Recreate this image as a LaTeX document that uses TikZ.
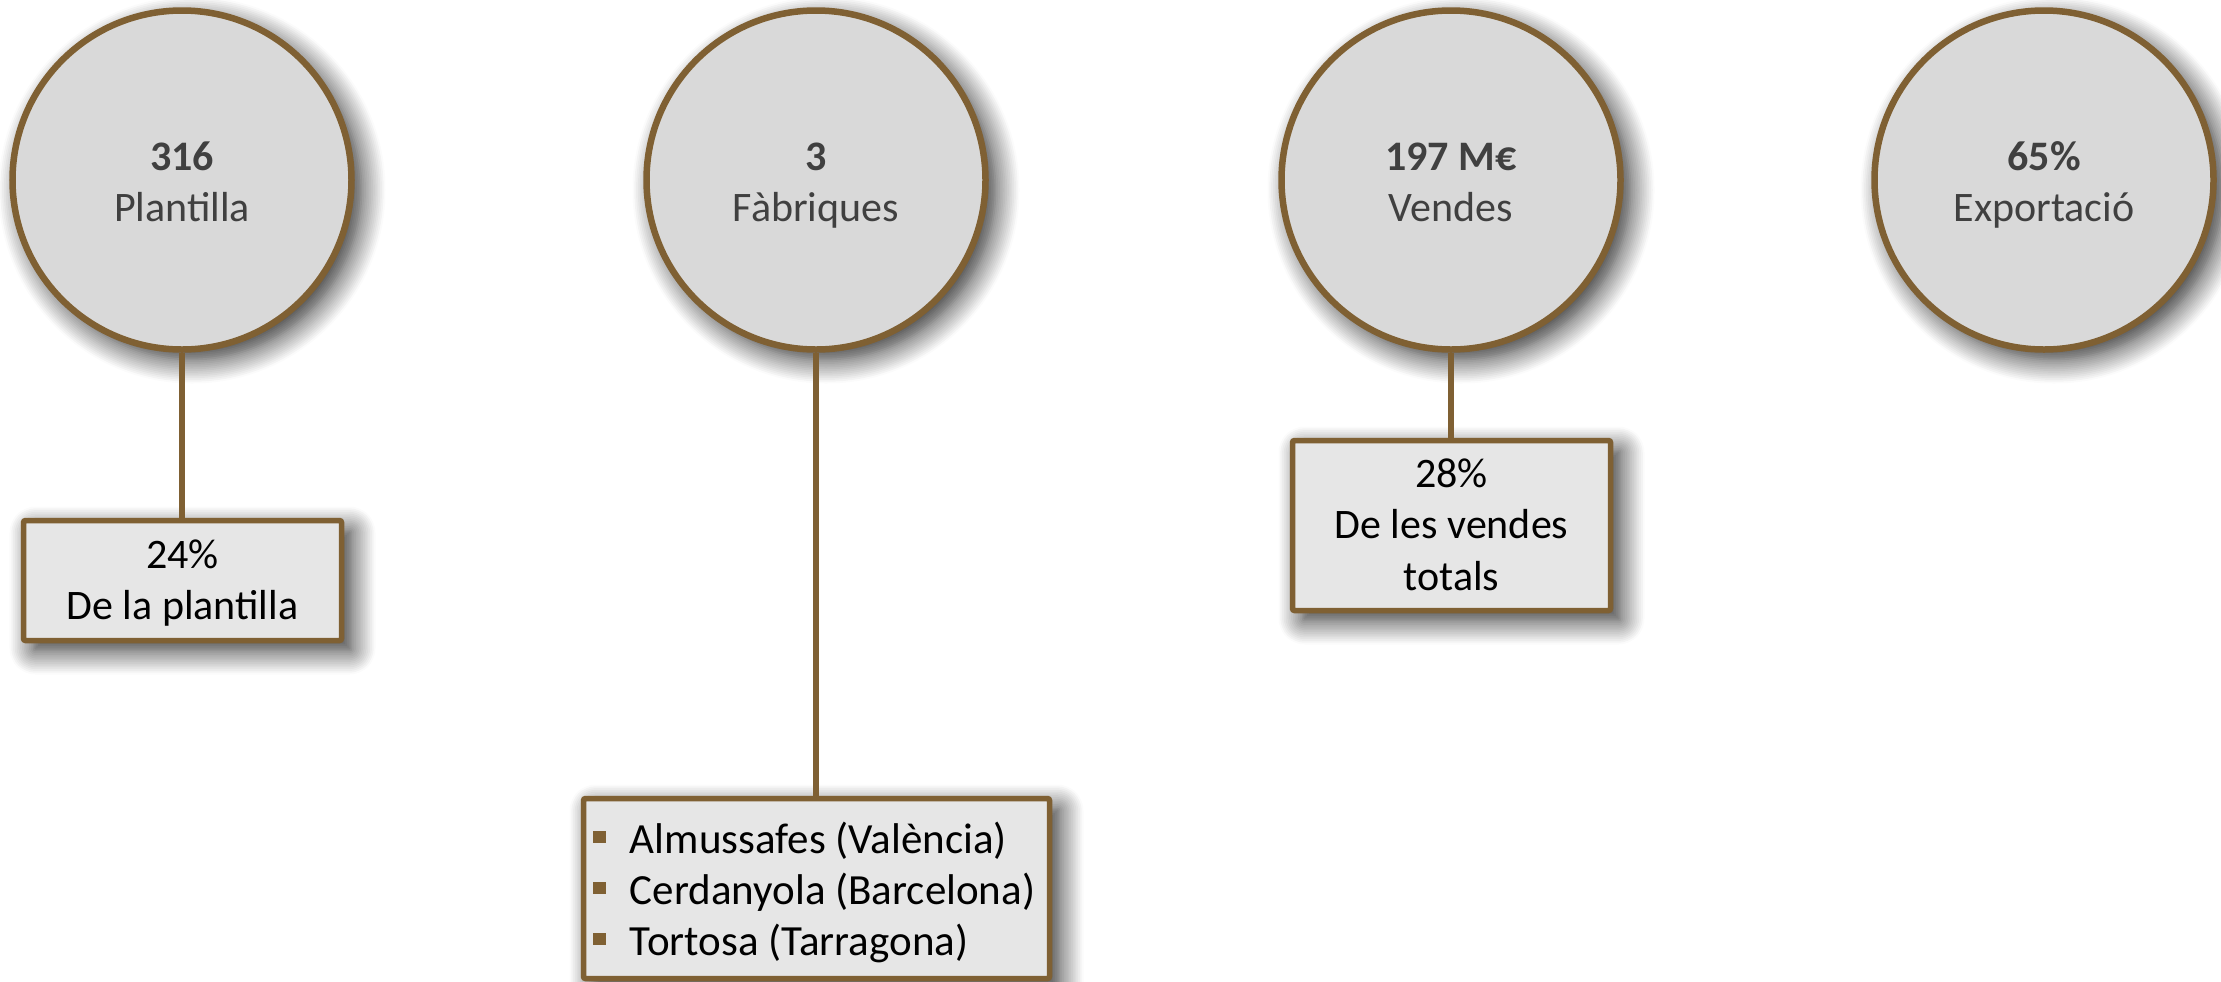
\documentclass[tikz,border=0pt]{standalone}
\usepackage{fontspec}
\setmainfont{Carlito}
\usetikzlibrary{shadows.blur}
\definecolor{brd}{HTML}{7F6033}
\definecolor{cfill}{HTML}{D9D9D9}
\definecolor{bfill}{HTML}{E6E6E6}
\definecolor{ctext}{HTML}{404040}
\newcommand\sqbul{\textcolor{brd}{\rule[5pt]{6.25pt}{6.25pt}}\hspace{12pt}}
\tikzset{
  softshadow/.style={blur shadow={shadow xshift=5pt, shadow yshift=-5pt, shadow blur radius=12pt, shadow blur steps=14, shadow opacity=85}},
  stat/.style={circle, draw=brd, line width=3.25pt, fill=cfill, minimum size=169.5pt,
    inner sep=0pt, softshadow},
  infobox/.style={rectangle, draw=brd, line width=2.75pt, fill=bfill, inner sep=0pt,
    rounded corners=1pt, softshadow},
  stattext/.style={anchor=base, inner sep=0pt, text=ctext, font=\fontsize{21}{25.5}\selectfont},
  boxtext/.style={anchor=base, inner sep=0pt, font=\fontsize{21}{25.5}\selectfont},
  listline/.style={anchor=base west, inner sep=0pt, font=\fontsize{21.5}{25.5}\selectfont},
  link/.style={draw=brd, line width=3pt},
}
\begin{document}
\begin{tikzpicture}[x=0.5pt, y=-0.5pt]
\useasboundingbox (0,0) rectangle (2221,981);
% circles
\node[stat] (c1) at (182,180) {};
\node[stat] (c2) at (816,180) {};
\node[stat] (c3) at (1451,180) {};
\node[stat] (c4) at (2044,180) {};
\node[stattext] (c1n) at (182,170) {\textbf{316}};
\node[stattext] (c1w) at (182,221) {Plantilla};
\node[stattext] (c2n) at (816,170) {\textbf{3}};
\node[stattext] (c2w) at (816,221) {Fàbriques};
\node[stattext] (c3n) at (1451,170) {\textbf{197 M€}};
\node[stattext] (c3w) at (1451,221) {Vendes};
\node[stattext] (c4n) at (2044,170) {\textbf{65\%}};
\node[stattext] (c4w) at (2044,221) {Exportació};
% boxes
\node[infobox, minimum width=159pt, minimum height=60pt] (b1) at (182.5,580.5) {};
\node[boxtext] (b1a) at (182.5,568) {24\%};
\node[boxtext] (b1b) at (182.5,619) {De la plantilla};
\node[infobox, minimum width=159pt, minimum height=85pt] (b3) at (1451.5,525.5) {};
\node[boxtext] (b3a) at (1451.5,487) {28\%};
\node[boxtext] (b3b) at (1451.5,538.5) {De les vendes};
\node[boxtext] (b3c) at (1451.5,590) {totals};
\node[infobox, minimum width=233pt, minimum height=90pt] (b2) at (816.5,888.5) {};
\node[listline] (t1) at (593,853) {\sqbul Almussafes (València)};
\node[listline] (t2) at (593,904) {\sqbul Cerdanyola (Barcelona)};
\node[listline] (t3) at (593,955) {\sqbul Tortosa (Tarragona)};
% connectors
\draw[link] (c1.south) -- (c1.south |- b1.north);
\draw[link] (c2.south) -- (c2.south |- b2.north);
\draw[link] (c3.south) -- (c3.south |- b3.north);
\end{tikzpicture}
\end{document}
